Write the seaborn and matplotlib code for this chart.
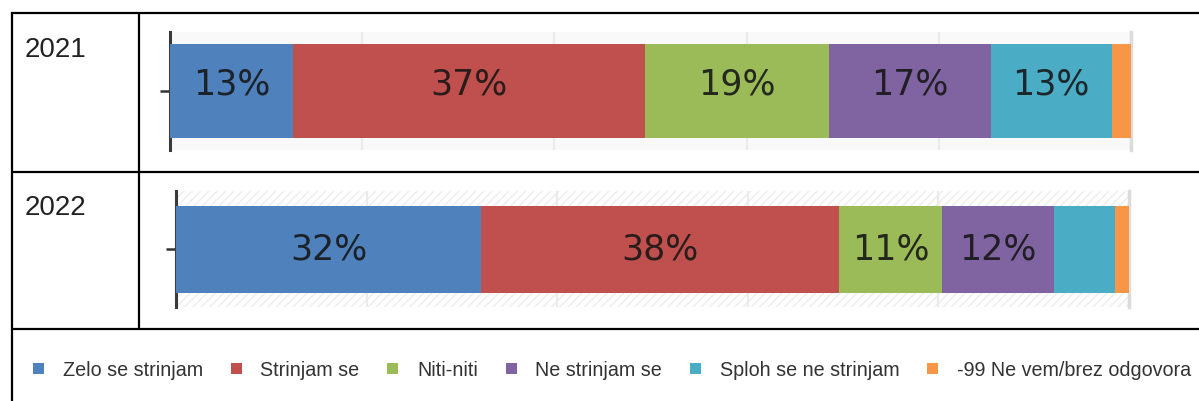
import numpy as np
import pandas as pd
import matplotlib
matplotlib.use("Agg")
import matplotlib.pyplot as plt
import seaborn as sns
from matplotlib.lines import Line2D
from matplotlib.patches import Patch, Rectangle
from matplotlib.font_manager import FontProperties

# ---------------- data ----------------
years = ["2021", "2022"]
categories = ["Zelo se strinjam", "Strinjam se", "Niti-niti", "Ne strinjam se",
              "Sploh se ne strinjam", "-99 Ne vem/brez odgovora"]
values_2021 = [12.8, 36.6, 19.2, 16.8, 12.6, 2.0]
values_2022 = [32.0, 37.6, 10.8, 11.7, 6.4, 1.5]
colors = ["#4F81BD", "#C0504D", "#9BBB59", "#8064A2", "#4BACC6", "#F79646"]
label_min = 10  # segments smaller than this carry no label

# ---------------- style ----------------
sns.set_theme(style="white")
plt.rcParams["font.family"] = ["DejaVu Sans"]
plt.rcParams["hatch.linewidth"] = 1.2

W, H = 1199, 401
fig = plt.figure(figsize=(W / 100, H / 100), dpi=100)
fig.patch.set_facecolor("white")


def fx(x):
    return x / W


def fy(y):
    return 1 - y / H


# table grid lines
line_kw = dict(color="black", lw=1.6, transform=fig.transFigure, solid_capstyle="butt")
fig.add_artist(Line2D([fx(11), 1], [fy(13), fy(13)], **line_kw))
fig.add_artist(Line2D([fx(11), 1], [fy(172), fy(172)], **line_kw))
fig.add_artist(Line2D([fx(11), 1], [fy(329), fy(329)], **line_kw))
fig.add_artist(Line2D([fx(12), fx(12)], [fy(12), 0], **line_kw))
fig.add_artist(Line2D([fx(139), fx(139)], [fy(12), fy(329)], **line_kw))

year_font = dict(family="Liberation Sans", size=20)
fig.text(fx(25), fy(57), years[0], fontdict=year_font, color="#222222", va="baseline")
fig.text(fx(25), fy(215), years[1], fontdict=year_font, color="#222222", va="baseline")


def draw(ax, year, vals, bar_w, label_dy, hatched):
    cum = np.cumsum(vals)
    df = pd.DataFrame({"year": [year] * len(vals), "cat": categories, "cum": cum})
    if hatched:
        ax.set_facecolor("white")
        ax.add_patch(Rectangle((0, 0), 1, 1, transform=ax.transAxes, facecolor="white",
                               edgecolor="#efefef", hatch="////", lw=0, zorder=0))
    else:
        ax.set_facecolor("#f9f9f9")
    for i in reversed(range(len(vals))):
        sns.barplot(data=df.iloc[[i]], x="cum", y="year", color=colors[i], saturation=1,
                    width=bar_w, orient="h", errorbar=None, ax=ax, linewidth=0, zorder=3)
    for i, v in enumerate(vals):
        if v >= label_min:
            ax.annotate(f"{v:.0f}%", xy=(cum[i] - v / 2, 0), xytext=(0, label_dy),
                        textcoords="offset points", ha="center", va="center",
                        fontsize=25, color="#151515", alpha=0.88, zorder=5)
    ax.set_xlim(0, 100)
    ax.set_ylim(0.5, -0.5)
    ax.set_xticks(range(0, 101, 20))
    ax.tick_params(axis="x", length=0, labelbottom=False, bottom=False)
    ax.grid(axis="x", color="#ebebeb", lw=1.6)
    ax.grid(axis="y", visible=False)
    ax.set_axisbelow(True)
    ax.set_yticks([0])
    ax.set_yticklabels([""])
    ax.tick_params(axis="y", left=True, length=7, width=1.8, color="#333333")
    ax.set_xlabel("")
    ax.set_ylabel("")
    for s in ("top", "bottom"):
        ax.spines[s].set_visible(False)
    ax.spines["left"].set_color("#3a3a3a")
    ax.spines["left"].set_linewidth(2.2)
    ax.spines["right"].set_color("#dcdcdc")
    ax.spines["right"].set_linewidth(2.5)


ax1 = fig.add_axes([fx(170), fy(150), (1131 - 170) / W, 118 / H])
ax2 = fig.add_axes([fx(176), fy(307), (1129 - 176) / W, 116 / H])
draw(ax1, years[0], values_2021, 0.8, 5, False)
draw(ax2, years[1], values_2022, 0.75, 0, True)

handles = [Patch(facecolor=c, edgecolor="none") for c in colors]
fig.legend(handles=handles, labels=categories, loc="center left",
           bbox_to_anchor=(fx(33), fy(370)), ncol=6, frameon=False,
           prop=FontProperties(family="Liberation Sans", size=14.2),
           handlelength=0.55, handleheight=0.55, handletextpad=0.95,
           columnspacing=1.42, borderpad=0, borderaxespad=0, labelcolor="#333333")

fig.savefig("out.png", dpi=100, facecolor="white")
